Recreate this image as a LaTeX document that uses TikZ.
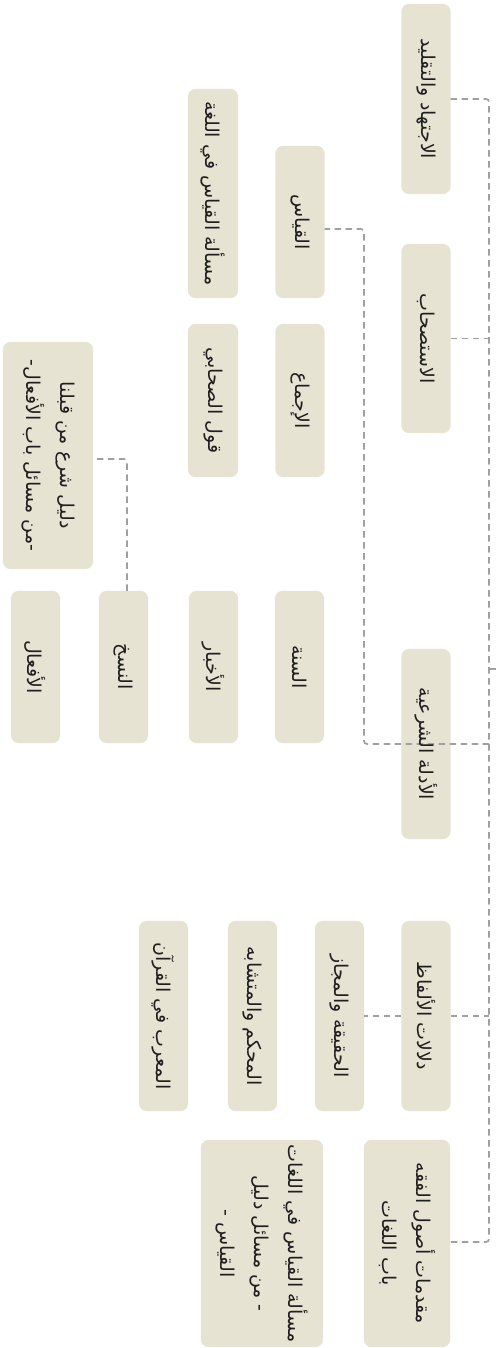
\documentclass[tikz,border=0pt]{standalone}
\usepackage{fontspec}
\newfontfamily\arabicfont[Script=Arabic]{DejaVu Sans}
\TeXXeTstate=1
\usetikzlibrary{calc}
\definecolor{boxfill}{HTML}{E7E3D3}
\definecolor{txtcol}{HTML}{1E1E1E}
\definecolor{conncol}{HTML}{A0A0A0}
\pgfdeclarelayer{bg}
\pgfdeclarelayer{mid}
\pgfsetlayers{bg,mid,main}
\tikzset{
  box/.style={rotate=-90, font=\arabicfont\fontsize{19}{34}\selectfont, text=txtcol,
    align=center, inner sep=0pt, minimum height=49pt},
  conn/.style={draw=conncol, line width=1.7pt, dash pattern=on 6.5pt off 4.5pt, rounded corners=3pt},
  boxbg/.style={fill=boxfill, rounded corners=8pt}
}
\begin{document}
\begin{tikzpicture}[x=1pt, y=-1pt]
\useasboundingbox (0,0) rectangle (498,1348);
% column 1
\node[box, minimum width=190pt] (a1) at (426,99) {\beginR الاجتهاد والتقليد\endR};
\node[box, minimum width=189pt] (a2) at (426,338.5) {\beginR الاستصحاب\endR};
\node[box, minimum width=190pt] (a3) at (426,744) {\beginR الأدلة الشرعية\endR};
\node[box, minimum width=190pt] (a4) at (426,1016) {\beginR دلالات الألفاظ\endR};
\node[box, minimum width=207pt, minimum height=86pt] (a5) at (407,1243.5) {\beginR مقدمات أصول الفقه\endR\\\beginR باب اللغات\endR};
% column 2
\node[box, minimum width=152pt] (b1) at (300,222) {\beginR القياس\endR};
\node[box, minimum width=153pt] (b2) at (300,400.5) {\beginR الإجماع\endR};
\node[box, minimum width=152pt] (b3) at (299.5,667) {\beginR السنة\endR};
\node[box, minimum width=190pt] (b4) at (339.5,1016) {\beginR الحقيقة والمجاز\endR};
% column 3
\node[box, minimum width=209pt, minimum height=50pt] (c1) at (213,193.5) {\beginR مسألة القياس في اللغة\endR};
\node[box, minimum width=153pt, minimum height=50pt] (c2) at (213,400.5) {\beginR قول الصحابي\endR};
\node[box, minimum width=152pt] (c3) at (213.5,667) {\beginR الأخبار\endR};
\node[box, minimum width=190pt] (c4) at (252.5,1016) {\beginR المحكم والمتشابه\endR};
\node[box, minimum width=207pt, minimum height=122pt] (c5) at (262,1243.5) {\beginR مسألة القياس في اللغات\endR\\\beginR - من مسائل دليل\endR\\\beginR القياس -\endR};
% column 4
\node[box, minimum width=152pt] (d1) at (123.5,667) {\beginR النسخ\endR};
\node[box, minimum width=190pt] (d2) at (163.5,1016) {\beginR المعرب في القرآن\endR};
% column 5
\node[box, minimum width=227pt, minimum height=90pt] (e1) at (48,455.5) {\beginR دليل شرع من قبلنا\endR\\\beginR -من مسائل باب الأفعال-\endR};
\node[box, minimum width=152pt] (e2) at (35.5,667) {\beginR الأفعال\endR};
% box backgrounds
\begin{pgfonlayer}{bg}
\foreach \n in {a1,a2,a3,a4,a5,b1,b2,b3,b4,c1,c2,c3,c4,c5,d1,d2,e1,e2}
  \fill[boxbg] (\n.north west) rectangle (\n.south east);
\end{pgfonlayer}
% connectors
\coordinate (t1) at (489,99);
\coordinate (t5) at (489,1242);
\coordinate (root) at (498,669);
\coordinate (v1) at (364,229);
\coordinate (v2) at (127,459);
\begin{pgfonlayer}{mid}
\draw[conn] (a1.north) -- (t1) -- (t5) -- (t5 -| a5.north);
\draw[conn] (a2.north) -- (a2.north -| t1);
\draw[conn] (a4.north) -- (a4.north -| t1);
\draw[conn] (t1 |- root) -- (root);
\draw[conn] (a3.center -| t1) -- (a3.center -| v1) -- (v1) -- (v1 -| b1.north);
\draw[conn] (a4.south) -- (b4.north);
\draw[conn] (d1.west -| v2) -- (v2) -- (v2 -| e1.north);
\end{pgfonlayer}
\end{tikzpicture}
\end{document}
